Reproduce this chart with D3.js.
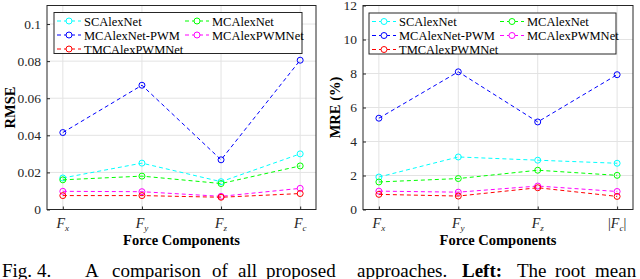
<!DOCTYPE html>
<html><head><meta charset="utf-8">
<script src="https://cdn.jsdelivr.net/npm/d3@7"></script>
<style>body{margin:0;background:#fff} svg{display:block} text{font-family:"Liberation Serif","Times New Roman",serif}</style>
</head><body>
<svg id="c" width="640" height="279"></svg>
<script>
// ---- data ----
const seriesNames = ["SCAlexNet", "MCAlexNet", "MCAlexNet-PWM", "MCAlexPWMNet", "TMCAlexPWMNet"];
const seriesColors = ["#00ffff", "#00ff00", "#0000ff", "#ff00ff", "#ff0000"];
const leftCategories = ["x", "y", "z", "c"];
const rightCategories = ["x", "y", "z", "c"];
const rmseSCAlexNet = [0.017, 0.025, 0.015, 0.030];
const rmseMCAlexNet = [0.016, 0.018, 0.014, 0.0235];
const rmseMCAlexNetPWM = [0.0415, 0.067, 0.0268, 0.0805];
const rmseMCAlexPWMNet = [0.0098, 0.0096, 0.0071, 0.0114];
const rmseTMCAlexPWMNet = [0.0075, 0.0075, 0.0066, 0.0086];
const mreSCAlexNet = [1.91, 3.09, 2.90, 2.72];
const mreMCAlexNet = [1.62, 1.82, 2.31, 2.01];
const mreMCAlexNetPWM = [5.37, 8.10, 5.15, 7.93];
const mreMCAlexPWMNet = [1.08, 1.02, 1.38, 1.06];
const mreTMCAlexPWMNet = [0.89, 0.79, 1.28, 0.77];
const rmseTicks = [0, 0.02, 0.04, 0.06, 0.08, 0.1];
const rmseTickLabels = ["0", "0.02", "0.04", "0.06", "0.08", "0.1"];
const mreTicks = [0, 2, 4, 6, 8, 10, 12];
const mreTickLabels = ["0", "2", "4", "6", "8", "10", "12"];

const svg = d3.select("#c");
const axCol = "#262626";

function panel(o) {
  const x = d3.scaleLinear().domain([0.8, 4.2]).range([o.x0, o.x1]);
  const y = d3.scaleLinear().domain(o.yDomain).range([o.yBot, o.yTop]);
  const g = svg.append("g");
  // grid
  g.append("g").selectAll("line").data(o.yTicks).join("line")
    .attr("x1", o.x0).attr("x2", o.x1).attr("y1", d => y(d)).attr("y2", d => y(d))
    .attr("stroke", "#e3e3e3").attr("stroke-width", 1);
  g.append("g").selectAll("line").data([1, 2, 3, 4]).join("line")
    .attr("x1", d => x(d)).attr("x2", d => x(d)).attr("y1", o.yTop).attr("y2", o.yBot)
    .attr("stroke", "#e3e3e3").attr("stroke-width", 1);
  // axes
  const ya = d3.axisLeft(y).tickValues(o.yTicks).tickSize(-3).tickPadding(6)
    .tickFormat((d, i) => o.yLabels[i]);
  const yg = g.append("g").attr("transform", `translate(${o.x0},0)`).call(ya);
  yg.select(".domain").remove();
  yg.selectAll("line").attr("stroke", axCol);
  yg.selectAll("text").attr("fill", axCol).style("font-size", "13.5px");
  const xa = d3.axisBottom(x).tickValues([1, 2, 3, 4]).tickSize(-3).tickFormat("");
  const xg = g.append("g").attr("transform", `translate(0,${o.yBot})`).call(xa);
  xg.select(".domain").remove();
  xg.selectAll("line").attr("stroke", axCol);
  g.append("rect").attr("x", o.x0).attr("y", o.yTop).attr("width", o.x1 - o.x0)
    .attr("height", o.yBot - o.yTop).attr("fill", "none").attr("stroke", axCol).attr("stroke-width", 1);
  // x tick labels
  o.cats.forEach((c, i) => {
    const t = g.append("text").attr("x", x(i + 1)).attr("y", o.yBot + 18)
      .attr("text-anchor", "middle").attr("fill", axCol).style("font-size", "14px");
    if (o.abs && i === 3) t.append("tspan").text("|");
    t.append("tspan").style("font-style", "italic").text("F");
    t.append("tspan").style("font-style", "italic").style("font-size", "9px").attr("dy", 3).text(c);
    if (o.abs && i === 3) t.append("tspan").attr("dy", -3).text("|");
  });
  // labels
  g.append("text").attr("x", (o.x0 + o.x1) / 2).attr("y", 245).attr("text-anchor", "middle")
    .style("font-weight", "bold").style("font-size", "14.5px").attr("fill", "#000").text("Force Components");
  g.append("text").attr("transform", `translate(${o.yLabX},${(o.yTop + o.yBot) / 2}) rotate(-90)`)
    .attr("text-anchor", "middle").style("font-weight", "bold").style("font-size", "14.5px")
    .attr("fill", "#000").text(o.yLabel);
  // series
  const line = d3.line().x((d, i) => x(i + 1)).y(d => y(d));
  o.data.forEach((arr, s) => {
    g.append("path").datum(arr).attr("d", line).attr("fill", "none")
      .attr("stroke", seriesColors[s]).attr("stroke-width", 1).attr("stroke-dasharray", "4,3");
    g.append("g").selectAll("circle").data(arr).join("circle")
      .attr("cx", (d, i) => x(i + 1)).attr("cy", d => y(d)).attr("r", 3)
      .attr("fill", "none").attr("stroke", seriesColors[s]).attr("stroke-width", 1);
  });
  // legend
  const L = o.leg;
  g.append("rect").attr("x", L.x).attr("y", L.y).attr("width", L.w).attr("height", L.h)
    .attr("fill", "#fff").attr("stroke", axCol).attr("stroke-width", 1);
  seriesNames.forEach((n, s) => {
    const col = s % 2, row = Math.floor(s / 2);
    const lx = L.x + 3 + col * L.colW, ly = L.y + 8.5 + row * 14;
    g.append("line").attr("x1", lx).attr("x2", lx + 24).attr("y1", ly).attr("y2", ly)
      .attr("stroke", seriesColors[s]).attr("stroke-dasharray", "4,3");
    g.append("circle").attr("cx", lx + 12).attr("cy", ly).attr("r", 3).attr("fill", "#fff")
      .attr("stroke", seriesColors[s]);
    g.append("text").attr("x", lx + 27).attr("y", ly + 4.5).style("font-size", "12.5px")
      .attr("fill", "#000").text(n);
  });
}

panel({ x0: 47, x1: 316, yTop: 5.5, yBot: 209.5, yDomain: [0, 0.11], yTicks: rmseTicks,
  yLabels: rmseTickLabels, cats: leftCategories, abs: false, yLabel: "RMSE", yLabX: 15,
  data: [rmseSCAlexNet, rmseMCAlexNet, rmseMCAlexNetPWM, rmseMCAlexPWMNet, rmseTMCAlexPWMNet],
  leg: { x: 54, y: 12.5, w: 248, h: 41, colW: 128 } });
panel({ x0: 363, x1: 633, yTop: 5.5, yBot: 209.5, yDomain: [0, 12], yTicks: mreTicks,
  yLabels: mreTickLabels, cats: rightCategories, abs: true, yLabel: "MRE (%)", yLabX: 340,
  data: [mreSCAlexNet, mreMCAlexNet, mreMCAlexNetPWM, mreMCAlexPWMNet, mreTMCAlexPWMNet],
  leg: { x: 369, y: 13, w: 247, h: 41, colW: 128 } });

// caption
const cap = svg.append("text").attr("y", 277).style("font-size", "19px").attr("fill", "#000");
const words = [["Fig.", 2], ["4.", 37], ["A", 85], ["comparison", 112], ["of", 212], ["all", 238],
  ["proposed", 266], ["approaches.", 357], ["Left:", 462, true], ["The", 517], ["root", 555], ["mean", 595]];
words.forEach(w => cap.append("tspan").attr("x", w[1]).style("font-weight", w[2] ? "bold" : "normal").text(w[0]));
</script>
</body></html>
